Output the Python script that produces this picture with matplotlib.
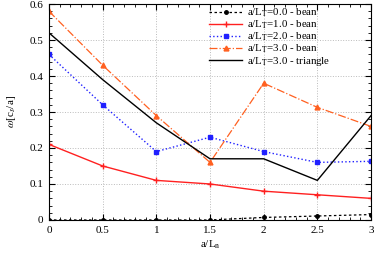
import matplotlib
matplotlib.use("Agg")
import matplotlib.pyplot as plt
from matplotlib.ticker import MultipleLocator

plt.rcParams['font.family'] = ['Liberation Serif', 'DejaVu Serif']
plt.rcParams['mathtext.fontset'] = 'stix'

x = [0, 0.5, 1, 1.5, 2, 2.5, 3]
lt0_bean = [0, 0, 0, 0, 0.007, 0.011, 0.015]
lt1_bean = [0.21, 0.15, 0.11, 0.10, 0.08, 0.07, 0.06]
lt2_bean = [0.46, 0.32, 0.19, 0.23, 0.19, 0.16, 0.163]
lt3_bean = [0.58, 0.43, 0.29, 0.16, 0.38, 0.313, 0.26]
lt3_triangle = [0.52, 0.39, 0.27, 0.17, 0.17, 0.11, 0.29]

xticks = [0, 0.5, 1, 1.5, 2, 2.5, 3]
xticklabels = ['0', '0.5', '1', '1.5', '2', '2.5', '3']
yticks = [0, 0.1, 0.2, 0.3, 0.4, 0.5, 0.6]
yticklabels = ['0', '0.1', '0.2', '0.3', '0.4', '0.5', '0.6']

fig = plt.figure(figsize=(3.74, 2.54), dpi=100)
ax = fig.add_axes([0.131, 0.134, 0.861, 0.85])

ax.plot(x, lt0_bean, color='black', linestyle=(0, (2, 2)), lw=0.9,
        marker='o', ms=2.5, label=r'a/L$_\mathrm{T}$=0.0 - bean')
ax.plot(x, lt1_bean, color='#ff2020', linestyle='-', lw=1.0,
        marker='+', ms=4, label=r'a/L$_\mathrm{T}$=1.0 - bean')
ax.plot(x, lt2_bean, color='#2020ff', linestyle=':', lw=1.0,
        marker='s', ms=3, label=r'a/L$_\mathrm{T}$=2.0 - bean')
ax.plot(x, lt3_bean, color='#ff6020', linestyle='-.', lw=0.9,
        marker='^', ms=3.5, label=r'a/L$_\mathrm{T}$=3.0 - bean')
ax.plot(x, lt3_triangle, color='black', linestyle='-', lw=1.0,
        label=r'a/L$_\mathrm{T}$=3.0 - triangle')

ax.set_xlim(0, 3)
ax.set_ylim(0, 0.6)
ax.set_xticks(xticks)
ax.set_xticklabels(xticklabels, fontsize=8)
ax.set_yticks(yticks)
ax.set_yticklabels(yticklabels, fontsize=8)
ax.xaxis.set_minor_locator(MultipleLocator(0.1))
ax.yaxis.set_minor_locator(MultipleLocator(0.02))
ax.tick_params(which='both', direction='in', top=True, right=True)
ax.tick_params(which='major', length=4, pad=4)
ax.tick_params(which='minor', length=2)
ax.grid(True, which='major', color='#bbbbbb', linestyle=':', lw=0.7)

ax.set_xlabel(r'a/L$_\mathrm{n}$', fontsize=8, labelpad=3)
ax.set_ylabel(r'$\omega$[c$_s$/a]', fontsize=8, labelpad=8)

ax.legend(loc='upper left', bbox_to_anchor=(0.49, 1.0), frameon=False,
          fontsize=7.8, handlelength=3.0, labelspacing=-0.05,
          borderaxespad=0.0, borderpad=0.25, handletextpad=0.5)

fig.savefig('out.png', dpi=100)
